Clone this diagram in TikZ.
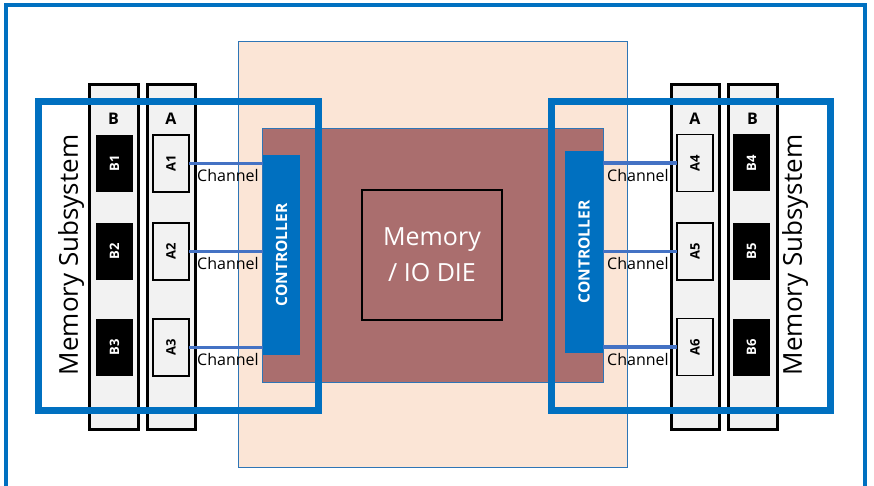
\documentclass[tikz,border=0pt]{standalone}
\usepackage{fontspec}
\setmainfont{Open Sans}
\usetikzlibrary{positioning, calc}
\definecolor{frameblue}{RGB}{0, 112, 192}
\definecolor{chanblue}{RGB}{68, 114, 196}
\definecolor{peach1}{RGB}{251, 229, 214}
\definecolor{peachline}{RGB}{46, 117, 182}
\definecolor{diebrown}{RGB}{170, 110, 110}
\definecolor{dimmgray}{RGB}{242, 242, 242}

\tikzset{
  dimm/.style={draw=black, line width=3pt, fill=dimmgray, inner sep=0pt, outer sep=0pt, minimum width=48pt, minimum height=344pt},
  chipA/.style={draw=black, line width=1.2pt, fill=dimmgray, inner sep=0pt, outer sep=0pt, minimum width=36pt, minimum height=57pt, font=\fontsize{13}{15}\selectfont\bfseries},
  chipB/.style={fill=black, text=white, inner sep=0pt, outer sep=0pt, minimum width=37pt, minimum height=57pt, font=\fontsize{13}{15}\selectfont\bfseries},
  ctl/.style={fill=frameblue, text=white, inner sep=0pt, outer sep=0pt, minimum width=37pt, minimum height=200pt, font=\fontsize{15.5}{18}\selectfont\bfseries},
  chan/.style={draw=chanblue, line width=3.5pt},
  chanlabel/.style={inner sep=0pt, font=\fontsize{16}{19}\selectfont},
  collabel/.style={inner sep=0pt, font=\fontsize{16}{19}\selectfont\bfseries},
  subsys/.style={draw=frameblue, line width=7pt},
  sublabel/.style={rotate=90, inner sep=0pt, font=\fontsize{26}{30}\selectfont}
}

\begin{document}
\begin{tikzpicture}[x=1pt, y=-1pt]
  \useasboundingbox (0,0) rectangle (874,486);

  % Frame
  \draw[frameblue, line width=4pt] (6,5) rectangle (865,500);

  % Package and die
  \node[draw=peachline, line width=1pt, fill=peach1, inner sep=0pt, minimum width=389pt, minimum height=426pt] (pkg) at (432.75,254.5) {};
  \node[draw=peachline, line width=1pt, fill=diebrown, inner sep=0pt, minimum width=341pt, minimum height=254pt] (iod) at (432.5,255.25) {};
  \node[draw=black, line width=2.5pt, inner sep=0pt, minimum width=140pt, minimum height=130pt, align=center, text=white, font=\fontsize{25}{36}\selectfont] (core) at (432,255) {Memory\\/ IO DIE};

  % Controllers
  \node[ctl] (ctlL) at (281.5,255) {\rotatebox{90}{CONTROLLER}};
  \node[ctl, minimum width=38pt, minimum height=202pt] (ctlR) at (584,252) {\rotatebox{90}{CONTROLLER}};

  % Left DIMMs
  \node[dimm, minimum width=49pt] (dimmLB) at (113.5,257) {};
  \node[dimm] (dimmLA) at (171,257) {};
  \node[collabel] at (113.5,119) {B};
  \node[collabel] at (171,119) {A};
  \node[chipB] (b1) at (114.5,163.5) {\rotatebox{90}{B1}};
  \node[chipB] (b2) at (114.5,251.5) {\rotatebox{90}{B2}};
  \node[chipB] (b3) at (114.5,347.5) {\rotatebox{90}{B3}};
  \node[chipA] (a1) at (171,163.5) {\rotatebox{90}{A1}};
  \node[chipA] (a2) at (171,251.5) {\rotatebox{90}{A2}};
  \node[chipA] (a3) at (171,347.5) {\rotatebox{90}{A3}};

  % Right DIMMs
  \node[dimm] (dimmRA) at (695,257) {};
  \node[dimm, minimum width=49pt] (dimmRB) at (752.5,257) {};
  \node[collabel] at (695,119) {A};
  \node[collabel] at (752.5,119) {B};
  \node[chipA] (a4) at (695,163) {\rotatebox{90}{A4}};
  \node[chipA] (a5) at (695,251.5) {\rotatebox{90}{A5}};
  \node[chipA] (a6) at (695,347) {\rotatebox{90}{A6}};
  \node[chipB] (b4) at (751.5,163) {\rotatebox{90}{B4}};
  \node[chipB] (b5) at (751.5,251.5) {\rotatebox{90}{B5}};
  \node[chipB] (b6) at (751.5,347) {\rotatebox{90}{B6}};

  % Channels
  \draw[chan] (a1.east) -- (a1.east -| ctlL.west);
  \draw[chan] (a2.east) -- (a2.east -| ctlL.west);
  \draw[chan] (a3.east) -- (a3.east -| ctlL.west);
  \coordinate (c4) at (ctlR.east |- a4.west);
  \coordinate (c5) at (ctlR.east |- a5.west);
  \coordinate (c6) at (ctlR.east |- a6.west);
  \draw[chan] (c4) -- (a4.west);
  \draw[chan] (c5) -- (a5.west);
  \draw[chan] (c6) -- (a6.west);
  \node[chanlabel, below right=6pt and 8pt of a1.east] {Channel};
  \node[chanlabel, below right=6pt and 8pt of a2.east] {Channel};
  \node[chanlabel, below right=6pt and 8pt of a3.east] {Channel};
  \node[chanlabel, below right=6pt and 4pt of c4] {Channel};
  \node[chanlabel, below right=6pt and 4pt of c5] {Channel};
  \node[chanlabel, below right=6pt and 4pt of c6] {Channel};

  % Memory subsystems
  \draw[subsys] (38.5,101.5) rectangle (318.5,410);
  \draw[subsys] (551.5,101.5) rectangle (830,410);
  \node[sublabel] (subL) at (71,255) {Memory Subsystem};
  \node[sublabel] (subR) at (795,255) {Memory Subsystem};
\end{tikzpicture}
\end{document}
